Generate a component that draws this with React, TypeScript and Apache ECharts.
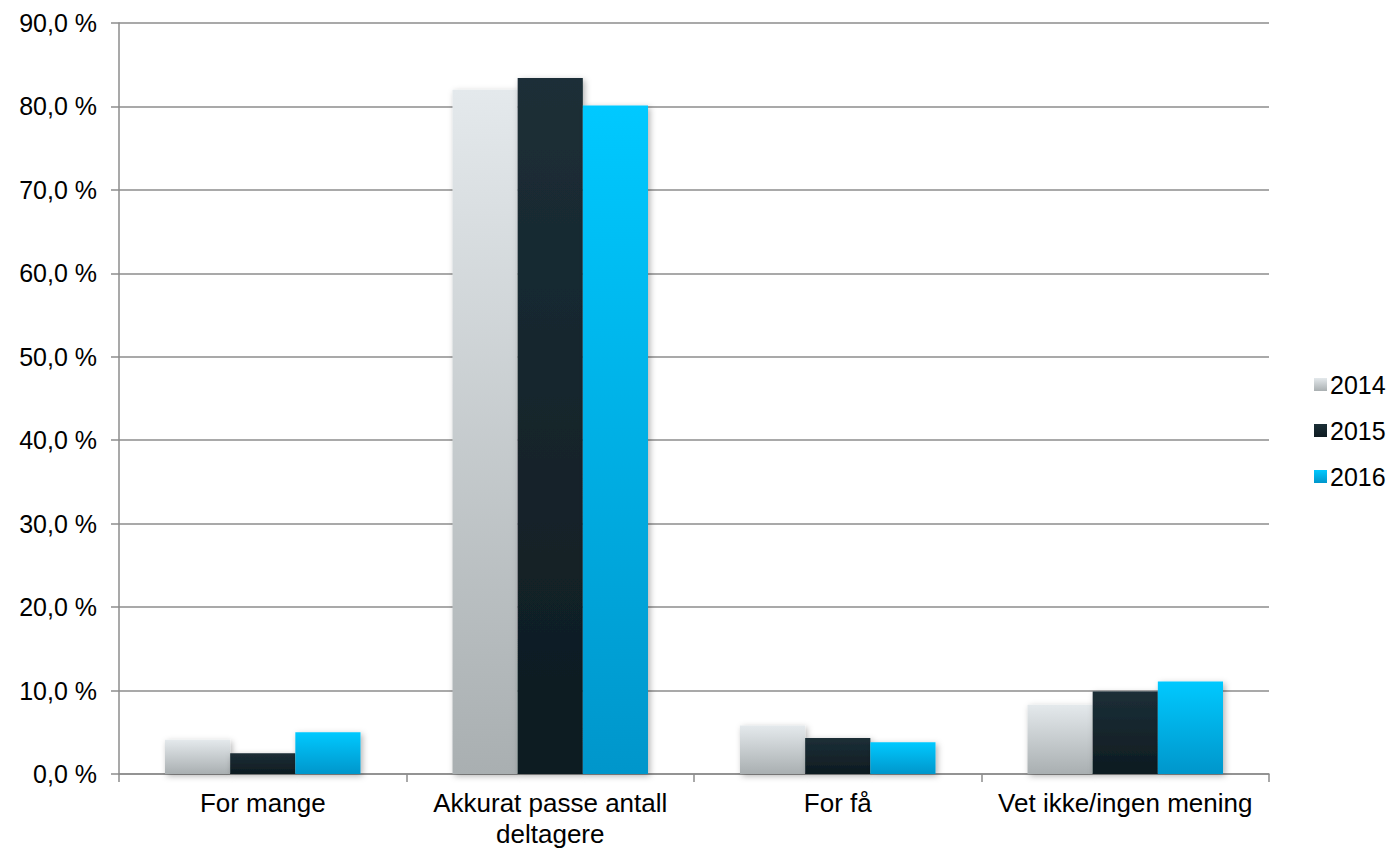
import React, { useEffect, useRef } from "react";
import * as echarts from "echarts";

const categories = ["For mange", "Akkurat passe antall\ndeltagere", "For få", "Vet ikke/ingen mening"];
const seriesNames = ["2014", "2015", "2016"];
const values2014 = [4.1, 82.0, 5.8, 8.3];
const values2015 = [2.5, 83.4, 4.3, 9.9];
const values2016 = [5.0, 80.1, 3.8, 11.1];

const grad = (top: string, bottom: string) =>
  new echarts.graphic.LinearGradient(0, 0, 0, 1, [
    { offset: 0, color: top },
    { offset: 1, color: bottom },
  ]);

export default function App() {
  const ref = useRef<HTMLDivElement>(null);
  useEffect(() => {
    if (!ref.current) return;
    const chart = echarts.init(ref.current, undefined, { renderer: "svg" });
    const font = "'Liberation Sans', Arial, sans-serif";
    const colors = [
      grad("#e4e9ec", "#a9afb1"),
      grad("#1c2f37", "#0e1b21"),
      grad("#00c9ff", "#0096cb"),
    ];
    const data = [values2014, values2015, values2016];
    chart.setOption({
      animation: false,
      backgroundColor: "#ffffff",
      textStyle: { fontFamily: font },
      grid: { left: 119, right: 123, top: 23, bottom: 78, containLabel: false },
      legend: {
        orient: "vertical",
        left: 1309,
        top: 367,
        itemWidth: 13,
        itemHeight: 13,
        itemGap: 21,
        icon: "rect",
        textStyle: { fontSize: 25, color: "#000", fontFamily: font, padding: [0, 0, 0, -2] },
        data: seriesNames,
      },
      xAxis: {
        type: "category",
        data: categories,
        axisLine: { lineStyle: { color: "#8c8c8c", width: 1.5 } },
        axisTick: { show: true, length: 8, interval: 0, alignWithLabel: false, lineStyle: { color: "#8c8c8c", width: 1.5 } },
        axisLabel: { fontSize: 26, color: "#000", margin: 13, lineHeight: 31, interval: 0, fontFamily: font },
      },
      yAxis: {
        type: "value",
        min: 0,
        max: 90,
        interval: 10,
        axisLine: { show: true, lineStyle: { color: "#8c8c8c", width: 1.5 } },
        axisTick: { show: true, length: 8, lineStyle: { color: "#8c8c8c", width: 1.5 } },
        splitLine: { show: true, lineStyle: { color: "#8c8c8c", width: 1.5 } },
        axisLabel: {
          fontSize: 25,
          color: "#000",
          margin: 22,
          fontFamily: font,
          formatter: (v: number) => v.toFixed(1).replace(".", ",") + " %",
        },
      },
      series: seriesNames.map((name, i) => ({
        name,
        type: "bar",
        data: data[i],
        barGap: "0%",
        barCategoryGap: "32%",
        itemStyle: {
          color: colors[i],
          shadowBlur: 6,
          shadowColor: "rgba(0,0,0,0.3)",
          shadowOffsetX: 2,
          shadowOffsetY: 2,
        },
      })),
    });
    return () => chart.dispose();
  }, []);
  return <div ref={ref} style={{ position: "fixed", left: 0, top: 0, width: 1392, height: 852 }} />;
}
